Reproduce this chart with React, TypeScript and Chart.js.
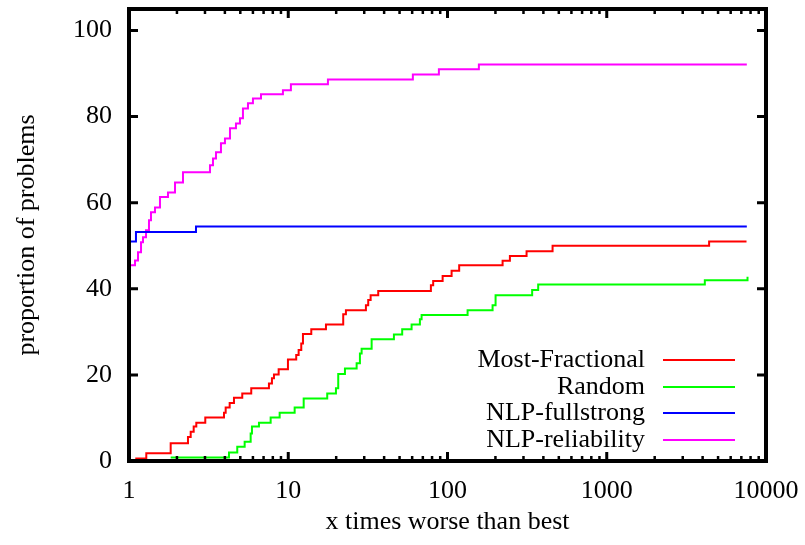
import React, { useEffect, useRef } from "react";
import { Chart, registerables } from "chart.js";

Chart.register(...registerables);

const xTicks = [1, 10, 100, 1000, 10000];
const yTicks = [0, 20, 40, 60, 80, 100];

const seriesLabels = ["Most-Fractional", "Random", "NLP-fullstrong", "NLP-reliability"];
const seriesColors = ["#ff0000", "#00ff00", "#0000ff", "#ff00ff"];

const mostFracX = [1.095, 1.284, 1.827, 2.346, 2.44, 2.548, 2.646, 3.013, 3.948, 4.046, 4.287, 4.562, 5.143, 5.856, 7.564, 7.9, 8.134, 8.705, 9.956, 11.22, 11.62, 12.07, 12.37, 13.95, 17.25, 22.14, 23.02, 30.74, 31.78, 32.91, 36.73, 78.65, 81.3, 93.2, 106.1, 118.4, 221.8, 246.5, 313.7, 456.9, 4393, 7545];
const mostFracY = [0.6, 1.8, 4.1, 5.6, 6.8, 8.0, 8.9, 10.1, 11.2, 12.4, 13.5, 14.7, 15.7, 16.9, 18.0, 19.2, 20.1, 21.3, 23.6, 24.6, 25.8, 27.3, 29.5, 30.6, 31.7, 34.1, 35.0, 36.2, 37.4, 38.5, 39.5, 40.8, 41.8, 43.0, 44.2, 45.5, 46.5, 47.6, 48.7, 50.0, 51.0, 51.0];

const randomX = [1.827, 4.244, 4.784, 5.324, 5.807, 5.917, 6.548, 7.753, 8.831, 10.97, 12.5, 17.57, 19.93, 20.6, 22.7, 26.88, 28.19, 28.89, 33.39, 46.08, 51.94, 59.5, 67.09, 68.76, 133.7, 191.9, 200.4, 340.1, 371.0, 4129, 7655];
const randomY = [0.8, 2.0, 3.3, 4.5, 6.4, 8.0, 8.9, 10.1, 11.2, 12.4, 14.5, 15.7, 16.9, 20.2, 21.5, 22.7, 25.0, 26.1, 28.3, 29.4, 30.6, 31.7, 32.9, 33.9, 35.0, 36.2, 38.5, 39.7, 41.0, 42.0, 42.8];

const fullstrongX = [1, 1.106, 2.634, 7578];
const fullstrongY = [51.0, 53.2, 54.5, 54.5];

const reliabilityX = [1, 1.091, 1.139, 1.19, 1.224, 1.279, 1.335, 1.374, 1.456, 1.565, 1.757, 1.945, 2.183, 3.225, 3.368, 3.517, 3.78, 4.005, 4.306, 4.695, 4.975, 5.195, 5.585, 6.002, 6.741, 9.26, 10.39, 17.75, 60.6, 88.3, 157.4, 7578];
const reliabilityY = [45.5, 46.6, 48.5, 50.8, 52.0, 53.6, 55.9, 57.8, 58.9, 61.3, 62.4, 64.7, 67.1, 68.7, 70.3, 71.7, 73.8, 74.9, 77.3, 78.4, 79.6, 81.9, 83.1, 84.2, 85.2, 86.1, 87.5, 88.6, 89.8, 91.0, 92.1, 92.1];

const seriesX = [mostFracX, randomX, fullstrongX, reliabilityX];
const seriesY = [mostFracY, randomY, fullstrongY, reliabilityY];

const FONT = "'Liberation Serif', 'Times New Roman', serif";

const framePlugin = {
  id: "frame",
  afterDatasetsDraw(chart: any) {
    const { ctx, chartArea } = chart;
    const { left, right, top, bottom } = chartArea;
    const xs = chart.scales.x;
    const ys = chart.scales.y;
    ctx.save();
    ctx.strokeStyle = "#000";
    ctx.lineCap = "butt";
    // ticks
    ctx.lineWidth = 3;
    const major = 9;
    const minor = 5;
    ctx.beginPath();
    for (const v of yTicks) {
      const p = ys.getPixelForValue(v);
      ctx.moveTo(left, p);
      ctx.lineTo(left + major, p);
      ctx.moveTo(right, p);
      ctx.lineTo(right - major, p);
    }
    for (const v of xTicks) {
      const p = xs.getPixelForValue(v);
      ctx.moveTo(p, bottom);
      ctx.lineTo(p, bottom - major);
      ctx.moveTo(p, top);
      ctx.lineTo(p, top + major);
    }
    ctx.stroke();
    ctx.lineWidth = 2.5;
    ctx.beginPath();
    for (let d = 0; d < xTicks.length - 1; d++) {
      for (let k = 2; k <= 9; k++) {
        const p = xs.getPixelForValue(xTicks[d] * k);
        ctx.moveTo(p, bottom);
        ctx.lineTo(p, bottom - minor);
        ctx.moveTo(p, top);
        ctx.lineTo(p, top + minor);
      }
    }
    ctx.stroke();
    // border
    ctx.lineWidth = 4;
    ctx.strokeRect(left, top, right - left, bottom - top);

    // legend
    ctx.font = "26px " + FONT;
    ctx.textAlign = "right";
    ctx.textBaseline = "middle";
    const rows = [360, 387, 413, 440];
    chart.data.datasets.forEach((ds: any, i: number) => {
      const y = rows[i];
      ctx.fillStyle = "#000";
      ctx.fillText(ds.label, 645, y);
      ctx.strokeStyle = ds.borderColor;
      ctx.lineWidth = 2;
      ctx.beginPath();
      ctx.moveTo(663, y);
      ctx.lineTo(735, y);
      ctx.stroke();
    });
    ctx.restore();
  },
};

export default function App() {
  const ref = useRef<HTMLCanvasElement | null>(null);
  useEffect(() => {
    if (!ref.current) return;
    const datasets = seriesLabels.map((label, i) => ({
      label,
      data: seriesX[i].map((x, j) => ({ x, y: seriesY[i][j] })),
      borderColor: seriesColors[i],
      backgroundColor: seriesColors[i],
      borderWidth: 2,
      pointRadius: 0,
      stepped: true as const,
      fill: false,
    }));
    const chart = new Chart(ref.current, {
      type: "line",
      data: { datasets },
      plugins: [framePlugin],
      options: {
        animation: false,
        responsive: false,
        devicePixelRatio: 1,
        layout: { padding: { left: 0, right: 39, top: 9, bottom: 0 } },
        plugins: { legend: { display: false }, tooltip: { enabled: false } },
        scales: {
          x: {
            type: "logarithmic",
            min: 1,
            max: 10000,
            afterBuildTicks: (s: any) => {
              s.ticks = xTicks.map((v) => ({ value: v }));
            },
            afterFit: (s: any) => {
              s.height = 84;
              s.paddingLeft = 0;
              s.paddingRight = 0;
            },
            grid: { display: false, drawTicks: false },
            border: { display: false },
            ticks: {
              padding: 15,
              color: "#000",
              maxRotation: 0,
              autoSkip: false,
              font: { family: FONT, size: 26 },
              callback: (v: any) => String(v),
            },
            title: {
              display: true,
              text: "x times worse than best",
              color: "#000",
              font: { family: FONT, size: 26 },
              padding: { top: 0, bottom: 7 },
            },
          },
          y: {
            type: "linear",
            min: 0,
            max: 105,
            afterBuildTicks: (s: any) => {
              s.ticks = yTicks.map((v) => ({ value: v }));
            },
            afterFit: (s: any) => {
              s.width = 129;
              s.paddingTop = 0;
              s.paddingBottom = 0;
            },
            grid: { display: false, drawTicks: false },
            border: { display: false },
            ticks: {
              padding: 17,
              color: "#000",
              font: { family: FONT, size: 26 },
              callback: (v: any) => String(v),
            },
            title: {
              display: true,
              text: "proportion of problems",
              color: "#000",
              font: { family: FONT, size: 26 },
              padding: { top: 12, bottom: 0 },
            },
          },
        },
      },
    });
    return () => chart.destroy();
  }, []);
  return (
    <div style={{ position: "fixed", left: 0, top: 0, width: 805, height: 545, background: "#fff" }}>
      <canvas ref={ref} width={805} height={545} style={{ width: 805, height: 545, display: "block" }} />
    </div>
  );
}
